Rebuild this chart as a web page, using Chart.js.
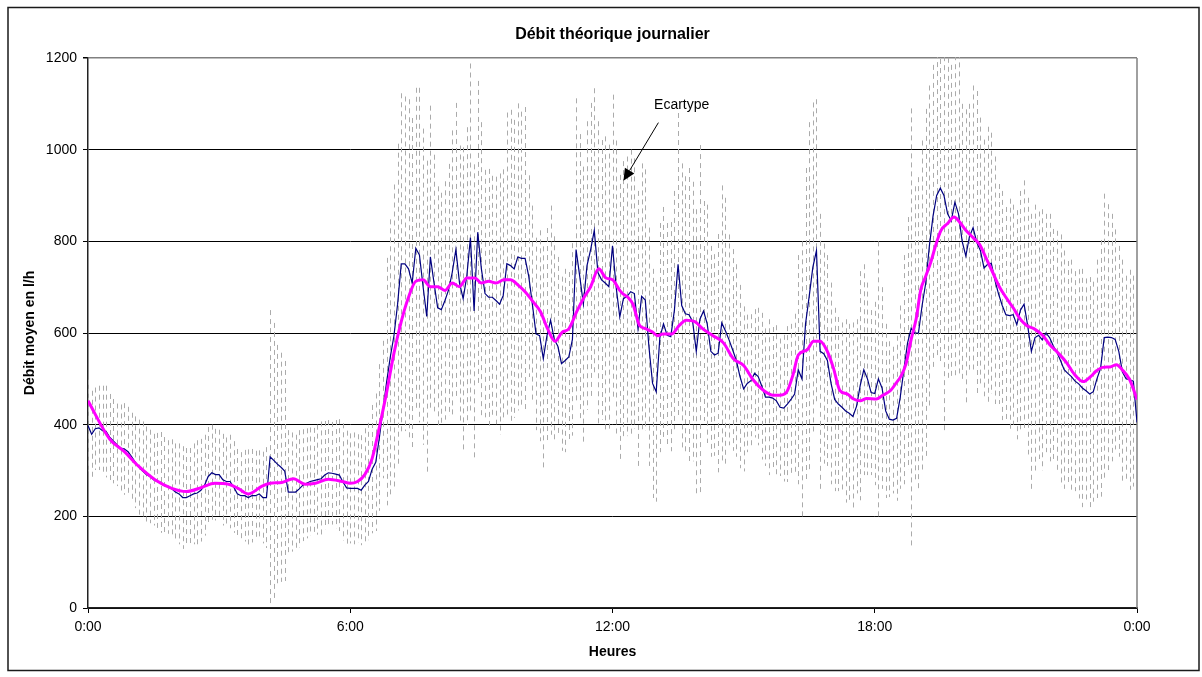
<!DOCTYPE html>
<html>
<head>
<meta charset="utf-8">
<script src="https://cdn.jsdelivr.net/npm/chart.js@4.4.1/dist/chart.umd.min.js"></script>
<style>
html,body{margin:0;padding:0;background:#fff;}
canvas{display:block;}
</style>
</head>
<body>
<canvas id="c" width="1202" height="677"></canvas>
<script>
// ---------- texts ----------
const chartTitle = 'Débit théorique journalier';
const yTitle = 'Débit moyen en l/h';
const xTitle = 'Heures';
const noteText = 'Ecartype';

// ---------- axes ----------
const stepMinutes = 5;                         // one sample every 5 minutes
const xTickValues = [0, 360, 720, 1080, 1440]; // minutes
const xTickLabels = ['0:00', '6:00', '12:00', '18:00', '0:00'];
const yTickValues = [0, 200, 400, 600, 800, 1000, 1200];

// ---------- series: mean flow (l/h), one value per 5 minutes ----------
const debitMoyen = [
  398,379,391,393,387,385,372,364,356,349,347,341,330,
  318,307,299,291,287,280,276,274,268,264,260,253,
  249,241,241,245,249,251,257,268,287,295,291,291,
  280,276,276,264,249,245,245,241,245,245,249,241,
  241,330,322,314,307,299,253,253,253,260,268,272,
  276,278,280,282,290,295,294,292,290,275,262,
  261,261,261,257,268,276,303,318,372,433,494,548,
  594,663,751,751,740,709,785,770,701,636,766,709,
  655,651,671,694,732,782,709,675,724,808,648,820,
  740,686,678,678,671,663,682,751,747,740,766,763,
  763,724,663,598,594,544,594,628,586,571,533,540,
  548,586,782,724,663,747,782,824,732,716,709,701,
  790,700,635,675,680,690,686,610,680,672,570,490,
  472,590,620,595,592,650,750,660,642,640,625,560,
  630,648,620,560,552,556,622,605,585,563,540,505,
  478,490,496,512,505,484,460,460,458,452,438,436,
  445,455,467,520,500,620,680,743,780,560,555,540,
  490,455,445,438,430,425,418,440,485,520,500,470,
  468,500,480,430,412,410,414,460,520,578,610,600,
  600,660,709,790,855,900,916,900,860,845,885,860,
  800,768,810,830,798,780,742,750,752,715,685,660,
  640,638,640,618,650,663,615,560,590,595,585,600,
  590,572,558,540,520,512,505,495,489,480,474,467,
  472,500,523,590,591,590,586,560,515,500,498,495,405
];

// ---------- series: standard deviation (l/h), one value per 5 minutes ----------
const ecartType = [
  100,95,90,92,98,100,95,92,90,95,100,98,96,
  100,104,108,105,102,100,106,110,105,102,108,106,
  110,112,108,104,110,115,112,110,108,105,100,98,
  100,96,102,100,98,95,100,105,102,98,95,100,
  110,320,300,260,250,240,135,130,125,128,122,120,
  118,115,120,125,118,115,112,118,122,128,125,
  120,122,118,120,124,128,140,150,160,150,270,300,
  330,350,372,365,370,360,350,365,345,340,330,280,
  265,255,260,275,310,320,300,330,325,380,320,330,
  320,270,280,265,270,285,275,330,340,325,335,320,
  330,220,215,210,230,245,235,250,225,195,190,200,
  185,210,330,310,300,315,320,310,330,305,320,310,
  330,320,310,300,305,310,295,300,290,285,260,250,
  240,250,255,245,250,260,330,310,300,320,305,310,
  380,240,260,230,220,260,300,290,230,220,210,200,
  180,150,145,140,150,160,150,170,155,165,150,160,
  170,165,175,250,300,340,380,360,330,300,240,230,
  220,200,190,185,200,195,205,190,250,230,210,180,
  200,300,220,190,170,160,180,200,250,275,480,320,
  340,360,380,350,330,350,380,520,360,340,380,350,
  300,320,290,310,330,290,280,300,285,270,240,250,
  235,255,240,250,260,270,280,300,290,270,285,260,
  270,255,265,275,260,245,255,240,250,260,245,255,
  240,260,280,314,290,270,240,230,245,225,240,230,220
];

// ---------- series: smoothed curve (minutes, l/h) ----------
const lisseMinutes = [
  0,30,50,69,92,115,135,156,174,193,206,220,239,250,266,282,298,312,330,349,
  360,370,380,390,400,410,420,430,440,450,460,470,480,490,500,510,520,531,540,550,
  560,571,580,590,600,610,621,631,641,651,660,671,681,690,701,711,720,730,734,741,
  748,757,766,775,782,789,801,812,821,833,844,858,872,886,900,913,927,941,949,959,
  968,975,987,996,1005,1014,1023,1032,1042,1051,1060,1069,1082,1091,1102,1109,1116,1123,1130,1137,
  1143,1150,1157,1164,1171,1180,1189,1196,1205,1215,1224,1233,1242,1251,1260,1270,1279,1288,1299,1311,
  1320,1332,1343,1354,1366,1377,1384,1393,1403,1412,1419,1430,1440
];
const lisseValues = [
  452,368,341,310,280,261,254,263,272,270,261,249,266,272,274,282,270,272,281,276,
  272,276,291,326,395,471,556,625,678,713,716,701,701,693,709,701,720,720,709,713,
  709,716,716,705,690,670,647,609,582,602,609,647,678,701,740,720,716,693,686,678,
  663,617,609,602,594,598,598,617,628,625,609,594,579,544,529,498,475,464,464,471,
  510,552,563,582,582,563,525,475,467,456,452,457,456,464,475,490,506,533,586,632,
  693,724,755,793,824,839,853,843,824,808,793,763,732,701,678,655,632,617,609,594,
  575,556,536,510,494,506,517,525,526,531,521,498,455
];

// ---------- annotation anchor (data coordinates: minutes, l/h) ----------
const notePos = { textX: 815, textY: 1097, fromX: 783, fromY: 1059, toX: 735, toY: 932 };

// ---------- build datasets ----------
const meanPoints = debitMoyen.map((v, i) => ({ x: i * stepMinutes, y: v }));
const smoothPoints = lisseMinutes.map((m, i) => ({ x: m, y: lisseValues[i] }));

const FONT = "'Liberation Sans', Arial, Helvetica, sans-serif";
Chart.defaults.font.family = FONT;
Chart.defaults.color = '#000';

const errorBarPlugin = {
  id: 'errorBars',
  beforeDatasetsDraw(chart) {
    const { ctx, chartArea: a, scales: { x, y } } = chart;
    ctx.save();
    // plot-area right border (grey)
    ctx.strokeStyle = '#808080';
    ctx.lineWidth = 1.5;
    ctx.beginPath();
    ctx.moveTo(a.right, a.top);
    ctx.lineTo(a.right, a.bottom);
    ctx.stroke();

    ctx.beginPath();
    ctx.rect(a.left, a.top - 1, a.width, a.height + 1);
    ctx.clip();
    ctx.strokeStyle = '#ababab';
    ctx.lineWidth = 1;
    ctx.setLineDash([5, 4]);
    debitMoyen.forEach((m, i) => {
      const sd = ecartType[i];
      const px = Math.round(x.getPixelForValue(i * stepMinutes)) + 0.5;
      const pt = y.getPixelForValue(m + sd);
      const pb = y.getPixelForValue(m - sd);
      ctx.beginPath(); ctx.moveTo(px, pt); ctx.lineTo(px, pb); ctx.stroke();
    });
    ctx.restore();
  }
};

const decorPlugin = {
  id: 'decor',
  afterDraw(chart) {
    const { ctx, chartArea: a, scales: { x, y } } = chart;
    ctx.save();
    // title
    ctx.fillStyle = '#000';
    ctx.font = 'bold 16px ' + FONT;
    ctx.textAlign = 'center';
    ctx.textBaseline = 'middle';
    ctx.fillText(chartTitle, (a.left + a.right) / 2, 35);

    // note text
    ctx.font = '14px ' + FONT;
    ctx.fillText(noteText, x.getPixelForValue(notePos.textX), y.getPixelForValue(notePos.textY));

    // arrow
    const x1 = x.getPixelForValue(notePos.fromX), y1 = y.getPixelForValue(notePos.fromY);
    const x2 = x.getPixelForValue(notePos.toX), y2 = y.getPixelForValue(notePos.toY);
    const ang = Math.atan2(y2 - y1, x2 - x1);
    const head = 12, half = 5.5;
    const bx = x2 - head * Math.cos(ang), by = y2 - head * Math.sin(ang);
    ctx.strokeStyle = '#000';
    ctx.lineWidth = 1;
    ctx.beginPath(); ctx.moveTo(x1, y1); ctx.lineTo(bx, by); ctx.stroke();
    ctx.beginPath();
    ctx.moveTo(x2, y2);
    ctx.lineTo(bx + half * Math.sin(ang), by - half * Math.cos(ang));
    ctx.lineTo(bx - half * Math.sin(ang), by + half * Math.cos(ang));
    ctx.closePath();
    ctx.fill();

    // outer frame
    ctx.strokeStyle = '#1a1a1a';
    ctx.lineWidth = 1.5;
    ctx.strokeRect(8, 7.5, 1191, 663);
    ctx.restore();
  }
};

new Chart(document.getElementById('c'), {
  type: 'line',
  data: {
    datasets: [
      {
        label: 'Débit moyen',
        data: meanPoints,
        borderColor: '#000080',
        borderWidth: 1.2,
        pointRadius: 0,
        tension: 0,
        order: 2
      },
      {
        label: 'Moyenne lissée',
        data: smoothPoints,
        borderColor: '#FF00FF',
        borderWidth: 3,
        pointRadius: 0,
        cubicInterpolationMode: 'monotone',
        order: 1
      }
    ]
  },
  options: {
    responsive: false,
    animation: false,
    devicePixelRatio: 1,
    layout: { padding: { left: 0, top: 58, right: 65, bottom: 0 } },
    plugins: {
      legend: { display: false },
      tooltip: { enabled: false },
      title: { display: false }
    },
    scales: {
      x: {
        type: 'linear',
        min: xTickValues[0],
        max: xTickValues[xTickValues.length - 1],
        afterBuildTicks(scale) { scale.ticks = xTickValues.map(v => ({ value: v })); },
        afterFit(scale) { scale.height = 69; },
        ticks: {
          autoSkip: false,
          maxRotation: 0,
          padding: 6,
          font: { size: 14 },
          color: '#000',
          callback: (v) => { const k = xTickValues.indexOf(v); return k >= 0 ? xTickLabels[k] : ''; }
        },
        grid: { drawOnChartArea: false, drawTicks: true, tickLength: 5, color: '#000', lineWidth: 1 },
        border: { color: '#222', width: 1.5 },
        title: { display: true, text: xTitle, font: { size: 14, weight: 'bold' }, color: '#000', padding: { top: 0, bottom: 16 } }
      },
      y: {
        min: 0,
        max: 1200,
        afterBuildTicks(scale) { scale.ticks = yTickValues.map(v => ({ value: v })); },
        afterFit(scale) { scale.width = 88; },
        ticks: { padding: 6, font: { size: 14 }, color: '#000', callback: (v) => String(v) },
        grid: {
          color: (c) => (c.tick && c.tick.value === 1200 ? '#808080' : '#000'),
          tickColor: '#000',
          lineWidth: (c) => (c.tick && c.tick.value === 1200 ? 1.5 : 1),
          tickLength: 5
        },
        border: { color: '#222', width: 1.5 },
        title: { display: true, text: yTitle, font: { size: 14, weight: 'bold' }, color: '#000', padding: { top: 22, bottom: 0 } }
      }
    }
  },
  plugins: [errorBarPlugin, decorPlugin]
});
</script>
</body>
</html>
